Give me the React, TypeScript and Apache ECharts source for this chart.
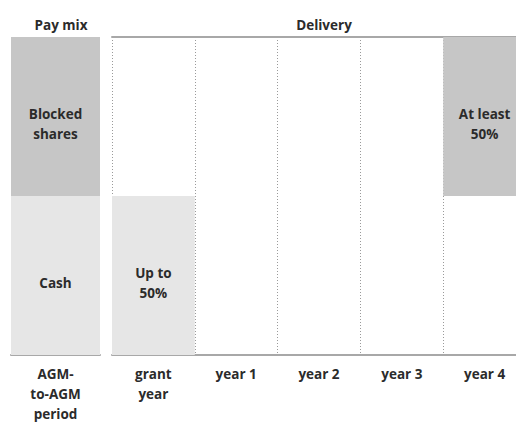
import React, { useEffect, useRef } from "react";
import * as echarts from "echarts";

const payCategories = ["AGM-\nto-AGM\nperiod"];
const cashShare = [50];
const blockedShare = [50];

const deliveryCategories = ["grant\nyear", "year 1", "year 2", "year 3", "year 4"];
const cashDelivery = [50, 0, 0, 0, 0];
const sharesOffset = [0, 0, 0, 0, 50];
const sharesDelivery = [0, 0, 0, 0, 50];

const panelTitles = ["Pay mix", "Delivery"];

const DARK = "#c6c6c6";
const LIGHT = "#e6e6e6";
const TEXT = "#2b2b2b";
const FONT = "'Open Sans', 'Noto Sans', sans-serif";
const FS = 13.5;

export default function App() {
  const ref = useRef<HTMLDivElement>(null);
  useEffect(() => {
    if (!ref.current) return;
    const chart = echarts.init(ref.current, null, { renderer: "svg" });
    const labelStyle = {
      show: true,
      color: TEXT,
      fontWeight: "bold" as const,
      fontSize: FS,
      fontFamily: FONT,
      lineHeight: 20,
      offset: [0, 7],
    };
    const axisLabel = {
      color: TEXT,
      fontWeight: "bold" as const,
      fontSize: FS,
      fontFamily: FONT,
      lineHeight: 20,
      margin: 9,
      interval: 0,
    };
    chart.setOption({
      animation: false,
      backgroundColor: "#ffffff",
      title: [
        {
          text: panelTitles[0],
          left: 56,
          top: 13,
          textAlign: "center",
          textStyle: { color: TEXT, fontSize: FS, fontWeight: "bold", fontFamily: FONT },
        },
        {
          text: panelTitles[1],
          left: 319,
          top: 13,
          textAlign: "center",
          textStyle: { color: TEXT, fontSize: FS, fontWeight: "bold", fontFamily: FONT },
        },
      ],
      grid: [
        { left: 11, width: 89, top: 37, bottom: 72 },
        { left: 112, width: 414, top: 37, bottom: 72 },
      ],
      xAxis: [
        {
          type: "category",
          gridIndex: 0,
          data: payCategories,
          axisLine: { show: true, lineStyle: { color: "#a8a8a8", width: 2 } },
          axisTick: { show: false },
          axisLabel,
        },
        {
          type: "category",
          gridIndex: 1,
          data: deliveryCategories,
          axisLine: { show: true, lineStyle: { color: "#a8a8a8", width: 2 } },
          axisTick: { show: false },
          splitLine: {
            show: true,
            interval: 0,
            lineStyle: { color: "#9a9a9a", type: [1, 2], width: 1 },
          },
          axisLabel,
        },
        {
          type: "category",
          gridIndex: 1,
          position: "top",
          data: deliveryCategories,
          axisLine: { show: true, lineStyle: { color: "#a8a8a8", width: 2 } },
          axisTick: { show: false },
          axisLabel: { show: false },
        },
      ],
      yAxis: [
        { type: "value", gridIndex: 0, min: 0, max: 100, show: false },
        { type: "value", gridIndex: 1, min: 0, max: 100, show: false },
      ],
      series: [
        {
          name: "Cash",
          type: "bar",
          xAxisIndex: 0,
          yAxisIndex: 0,
          stack: "pay",
          barWidth: "100%",
          data: cashShare,
          itemStyle: { color: LIGHT },
          label: { ...labelStyle, position: "inside", formatter: "Cash" },
        },
        {
          name: "Blocked shares",
          type: "bar",
          xAxisIndex: 0,
          yAxisIndex: 0,
          stack: "pay",
          barWidth: "100%",
          data: blockedShare,
          itemStyle: { color: DARK },
          label: { ...labelStyle, position: "inside", formatter: "Blocked\nshares" },
        },
        {
          name: "Cash delivery",
          type: "bar",
          xAxisIndex: 1,
          yAxisIndex: 1,
          stack: "del",
          barWidth: "100%",
          data: cashDelivery,
          itemStyle: { color: LIGHT },
          label: {
            ...labelStyle,
            position: "inside",
            formatter: (p: any) => (p.value > 0 ? "Up to\n50%" : ""),
          },
        },
        {
          name: "offset",
          type: "bar",
          xAxisIndex: 1,
          yAxisIndex: 1,
          stack: "del",
          barWidth: "100%",
          data: sharesOffset,
          itemStyle: { color: "transparent" },
          silent: true,
        },
        {
          name: "Shares delivery",
          type: "bar",
          xAxisIndex: 1,
          yAxisIndex: 1,
          stack: "del",
          barWidth: "100%",
          data: sharesDelivery,
          itemStyle: { color: DARK },
          label: {
            ...labelStyle,
            position: "inside",
            formatter: (p: any) => (p.value > 0 ? "At least\n50%" : ""),
          },
        },
      ],
    });
    return () => chart.dispose();
  }, []);
  return (
    <div style={{ position: "absolute", left: 0, top: 0, width: 516, height: 427, overflow: "hidden" }}>
      <div ref={ref} style={{ width: 528, height: 427 }} />
    </div>
  );
}
